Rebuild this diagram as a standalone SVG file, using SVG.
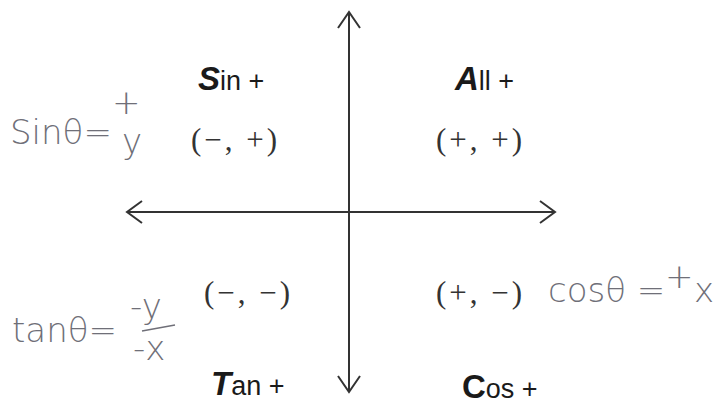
<svg xmlns="http://www.w3.org/2000/svg" width="725" height="409" viewBox="0 0 725 409">
<style>
.lbl{font-family:"Liberation Sans",Arial,sans-serif;font-size:27px;fill:#1a1a1a}
.b{font-weight:bold;font-style:italic;font-size:33px}
.pair{font-family:"Liberation Serif","Times New Roman",serif;font-size:31px;fill:#333;letter-spacing:3px}
.hw{font-family:"DejaVu Sans","Liberation Sans",sans-serif;font-size:34px;fill:#6f6f78;font-weight:200}
.ax{stroke:#333;stroke-width:2;fill:none}
</style>
<rect width="725" height="409" fill="#fff"/>
<g id="axes">
<line class="ax" x1="127" y1="212" x2="555" y2="212"/>
<line class="ax" x1="349" y1="12" x2="349" y2="392"/>
<path class="ax" d="M142 201 L127 212 L142 223"/>
<path class="ax" d="M540 201 L555 212 L540 223"/>
<path class="ax" d="M338 28 L349 12 L360 28"/>
<path class="ax" d="M338 376 L349 392 L360 376"/>
</g>
<g id="q2">
<text class="lbl" x="198" y="90"><tspan class="b">S</tspan>in +</text>
<text class="pair" x="191" y="150">(−, +)</text>
</g>
<g id="q1">
<text class="lbl" x="455" y="90"><tspan class="b">A</tspan>ll  +</text>
<text class="pair" x="436" y="150">(+, +)</text>
</g>
<g id="q3">
<text class="pair" x="204" y="303">(−, −)</text>
<text class="lbl" x="211" y="395"><tspan class="b">T</tspan>an +</text>
</g>
<g id="q4">
<text class="pair" x="436" y="303">(+, −)</text>
<text class="lbl" x="462" y="398"><tspan class="b" style="font-style:normal">C</tspan>os +</text>
</g>
<g id="note-sin">
<text class="hw" x="10" y="144">Sinθ=</text>
<text class="hw" x="112" y="114" font-size="22">+</text>
<text class="hw" x="122" y="153">y</text>
</g>
<g id="note-tan">
<text class="hw" x="12" y="342">tanθ=</text>
<text class="hw" x="130" y="318" font-size="28">-y</text>
<line x1="142" y1="331" x2="175" y2="325" stroke="#6f6f78" stroke-width="1.5"/>
<text class="hw" x="133" y="360" font-size="28">-x</text>
</g>
<g id="note-cos">
<text class="hw" x="548" y="302">cosθ =</text>
<text class="hw" x="665" y="288" font-size="22">+</text>
<text class="hw" x="694" y="302">x</text>
</g>
</svg>
